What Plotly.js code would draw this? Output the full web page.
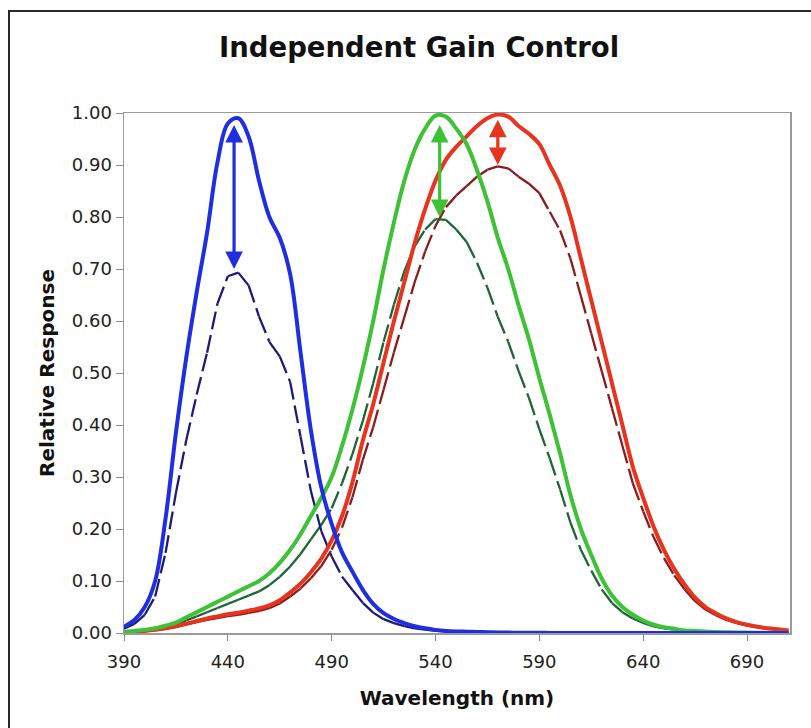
<!DOCTYPE html>
<html>
<head>
<meta charset="utf-8">
<script src="https://cdn.plot.ly/plotly-3.0.1.min.js"></script>
<style>
  html, body { margin: 0; padding: 0; background: #fff; overflow: hidden; width: 811px; height: 728px; }
  #chart { position: absolute; left: 0; top: 0; width: 811px; height: 728px; }
  #frame { position: absolute; left: 8px; top: 10px; width: 900px; height: 800px;
           border: 2px solid #2a2a2a; pointer-events: none; z-index: 10; }
</style>
</head>
<body>
<div id="chart"></div>
<div id="frame"></div>
<script>
// ---- data ----
const wavelength = [390,395,400,405,410,415,420,425,430,435,440,445,450,455,460,465,470,475,480,485,
                    490,495,500,505,510,515,520,525,530,535,540,545,550,555,560,565,570,575,580,585,
                    590,595,600,605,610,615,620,625,630,635,640,645,650,655,660,665,670,675,680,685,
                    690,695,700,705,710];

const blueResp = [0.012,0.025,0.05,0.10,0.22,0.385,0.53,0.655,0.77,0.905,0.98,0.99,0.955,0.87,0.80,0.76,0.69,0.54,0.39,0.28,
                  0.21,0.155,0.118,0.083,0.056,0.038,0.027,0.019,0.013,0.009,0.006,0.004,0.003,0.0025,0.002,0.0015,0.001,0.0008,0.0005,0.0004,
                  0.0003,0.0002,0.0001,0,0,0,0,0,0,0,0,0,0,0,0,0,0,0,0,0,
                  0,0,0,0,0];

const greenResp = [0.002,0.004,0.006,0.009,0.014,0.02,0.03,0.04,0.05,0.06,0.07,0.08,0.09,0.10,0.115,0.135,0.16,0.19,0.225,0.26,
                   0.30,0.36,0.43,0.51,0.60,0.70,0.79,0.87,0.93,0.97,0.995,0.993,0.97,0.94,0.89,0.83,0.76,0.70,0.63,0.565,
                   0.49,0.42,0.345,0.265,0.20,0.15,0.105,0.072,0.05,0.035,0.024,0.016,0.011,0.008,0.005,0.004,0.003,0.002,0.0015,0.001,
                   0.0008,0.0006,0.0004,0.0003,0.0002];

const redResp = [0.002,0.003,0.004,0.006,0.009,0.013,0.018,0.023,0.028,0.032,0.036,0.039,0.043,0.047,0.053,0.063,0.078,0.095,0.117,0.143,
                 0.178,0.225,0.29,0.37,0.44,0.52,0.60,0.675,0.75,0.815,0.87,0.91,0.935,0.955,0.975,0.99,0.997,0.993,0.975,0.96,
                 0.94,0.90,0.86,0.80,0.72,0.64,0.56,0.48,0.40,0.32,0.26,0.205,0.16,0.123,0.093,0.068,0.05,0.038,0.028,0.021,
                 0.016,0.012,0.009,0.007,0.005];

// gain factors applied to each cone class (dashed curves)
const gainBlue = 0.70;
const gainGreen = 0.80;
const gainRed = 0.90;

// double arrows showing gain change
const arrowX      = [443, 542, 570];
const arrowTop    = [0.98, 0.98, 0.99];
const arrowBottom = [0.70, 0.80, 0.90];

const xTickVals = [390, 440, 490, 540, 590, 640, 690];
const xTickText = ['390', '440', '490', '540', '590', '640', '690'];
const yTickVals = [0,0.1,0.2,0.3,0.4,0.5,0.6,0.7,0.8,0.9,1.0];
const yTickText = ['0.00','0.10','0.20','0.30','0.40','0.50','0.60','0.70','0.80','0.90','1.00'];

// ---- styles ----
const FONT = 'DejaVu Sans, Verdana, sans-serif';
const colBlue = '#1f2ee0', colGreen = '#3cc234', colRed = '#e8341e';
const colBlueD = '#1c1c78', colGreenD = '#1d6634', colRedD = '#8a1c1c';

// Scaled curve split into per-interval pieces so the dash pattern restarts on each
// interval (as in the original spreadsheet chart).
function scaledPieces(xs, ys, g) {
  const px = [], py = [];
  for (let i = 0; i < xs.length - 1; i++) {
    px.push(xs[i], xs[i + 1], null);
    py.push(ys[i] * g, ys[i + 1] * g, null);
  }
  return { x: px, y: py };
}

function dashedTrace(ys, g, color, name) {
  const p = scaledPieces(wavelength, ys, g);
  return { x: p.x, y: p.y, mode: 'lines', name: name, connectgaps: false,
           line: { color: color, width: 2.3, dash: '18px,6px' }, hoverinfo: 'skip' };
}
function solidTrace(ys, color, name) {
  return { x: wavelength, y: ys, mode: 'lines', name: name,
           line: { color: color, width: 4, shape: 'spline', smoothing: 1 } };
}

const traces = [
  dashedTrace(redResp, gainRed, colRedD, 'L (gain)'),
  dashedTrace(greenResp, gainGreen, colGreenD, 'M (gain)'),
  dashedTrace(blueResp, gainBlue, colBlueD, 'S (gain)'),
  solidTrace(redResp, colRed, 'L'),
  solidTrace(greenResp, colGreen, 'M'),
  solidTrace(blueResp, colBlue, 'S')
];

const arrowCols = [colBlue, colGreen, colRed];
const annotations = arrowX.map((x, i) => ({
  x: x, y: arrowBottom[i], ax: x, ay: arrowTop[i],
  xref: 'x', yref: 'y', axref: 'x', ayref: 'y',
  text: '', showarrow: true, arrowhead: 2, startarrowhead: 2, arrowside: 'end+start',
  arrowwidth: 3.2, arrowsize: 1.1, startarrowsize: 1.1, arrowcolor: arrowCols[i], standoff: 0, startstandoff: 0
}));

const layout = {
  width: 811, height: 728,
  margin: { l: 124, r: 21, t: 113, b: 95, pad: 0 },
  paper_bgcolor: '#ffffff', plot_bgcolor: '#ffffff',
  showlegend: false,
  font: { family: FONT, color: '#222' },
  title: {
    text: 'Independent Gain Control',
    font: { family: FONT, size: 27.5, weight: 'bold', color: '#111' },
    xref: 'container', yref: 'container', x: 0.5167, xanchor: 'center', y: 0.935, yanchor: 'middle'
  },
  xaxis: {
    range: [390, 710.7], tickmode: 'array', tickvals: xTickVals, ticktext: xTickText,
    ticks: 'outside', ticklen: 6, tickcolor: '#8a8a8a', tickwidth: 1,
    showline: true, linecolor: '#9a9a9a', linewidth: 1.5, mirror: true,
    showgrid: false, zeroline: false, ticklabelstandoff: 6,
    tickfont: { family: FONT, size: 18, color: '#222' },
    title: { text: 'Wavelength (nm)', font: { family: FONT, size: 20, weight: 'bold', color: '#111' }, standoff: 20 }
  },
  yaxis: {
    range: [0, 1.0], tickmode: 'array', tickvals: yTickVals, ticktext: yTickText,
    ticks: 'outside', ticklen: 7, tickcolor: '#8a8a8a', tickwidth: 1,
    showline: true, linecolor: '#9a9a9a', linewidth: 1.5, mirror: true,
    showgrid: false, zeroline: false,
    tickfont: { family: FONT, size: 18, color: '#222' },
    title: { text: 'Relative Response', font: { family: FONT, size: 20, weight: 'bold', color: '#111' }, standoff: 12 }
  },
  annotations: annotations
};

Plotly.newPlot('chart', traces, layout, { displayModeBar: false, staticPlot: true });
</script>
</body>
</html>
